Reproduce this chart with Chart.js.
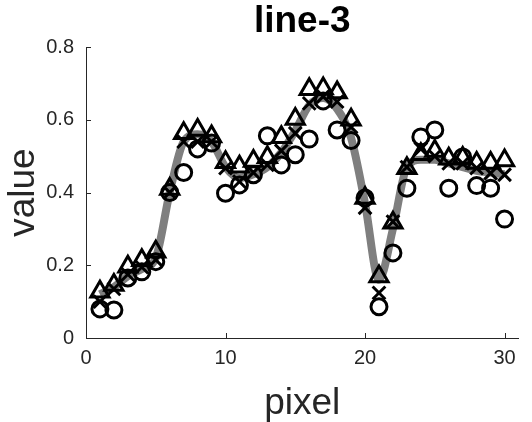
<!DOCTYPE html>
<html>
<head>
<meta charset="utf-8">
<script src="https://cdn.jsdelivr.net/npm/chart.js@4/dist/chart.umd.min.js"></script>
<style>
html,body{margin:0;padding:0;background:#fff;}
#wrap{width:532px;height:422px;}
</style>
</head>
<body>
<div id="wrap"><canvas id="c" width="532" height="422"></canvas></div>
<script>
const pixels = [1,2,3,4,5,6,7,8,9,10,11,12,13,14,15,16,17,18,19,20,21,22,23,24,25,26,27,28,29,30];
const truth = [0.12,0.14,0.17,0.19,0.22,0.40,0.54,0.56,0.54,0.47,0.44,0.45,0.47,0.51,0.57,0.64,0.66,0.63,0.55,0.37,0.16,0.30,0.47,0.49,0.49,0.48,0.47,0.46,0.455,0.45];
const circles = [0.08,0.077,0.165,0.182,0.21,0.40,0.455,0.52,0.536,0.398,0.421,0.449,0.556,0.476,0.504,0.547,0.652,0.572,0.543,0.385,0.086,0.234,0.412,0.553,0.572,0.412,0.498,0.419,0.412,0.327];
const crosses = [0.10,0.135,0.175,0.195,0.215,0.40,0.54,0.54,0.54,0.467,0.43,0.455,0.476,0.515,0.563,0.645,0.664,0.65,0.58,0.358,0.124,0.32,0.47,0.52,0.50,0.48,0.48,0.467,0.453,0.449];
const triangles = [0.127,0.146,0.196,0.214,0.237,0.41,0.563,0.572,0.554,0.483,0.471,0.487,0.497,0.552,0.602,0.684,0.686,0.675,0.60,0.385,0.169,0.317,0.467,0.505,0.514,0.493,0.495,0.481,0.481,0.488];
const xTicks = [0,10,20,30];
const yTicks = [0,0.2,0.4,0.6,0.8];
const titleText = 'line-3';
const xTitle = 'pixel';
const yTitle = 'value';

const pts = arr => pixels.map((p,i)=>({x:p,y:arr[i]}));
const axisColor = '#262626';
const FONT = "'Liberation Sans', Arial, sans-serif";

const inwardTicks = {
  id:'inwardTicks',
  afterDatasetsDraw(chart){
    const ctx = chart.ctx, a = chart.chartArea;
    const xs = chart.scales.x, ys = chart.scales.y;
    ctx.save();
    ctx.strokeStyle = axisColor; ctx.lineWidth = 1;
    ctx.beginPath();
    xTicks.forEach(v=>{ const px = Math.round(xs.getPixelForValue(v))+0.5; ctx.moveTo(px,a.bottom); ctx.lineTo(px,a.bottom-5); });
    yTicks.forEach(v=>{ const py = Math.round(ys.getPixelForValue(v))+0.5; ctx.moveTo(a.left,py); ctx.lineTo(a.left+5,py); });
    ctx.stroke();
    ctx.restore();
  }
};

new Chart(document.getElementById('c'), {
  type:'scatter',
  data:{
    datasets:[
      {data:pts(truth), showLine:true, borderColor:'#7f7f7f', borderWidth:8, pointRadius:0, cubicInterpolationMode:'monotone', order:5},
      {data:pts(circles), pointStyle:'circle', pointRadius:8, borderColor:'#000', backgroundColor:'rgba(0,0,0,0)', pointBorderWidth:3, order:3},
      {data:pts(crosses), pointStyle:'crossRot', pointRadius:9, borderColor:'#000', pointBorderWidth:3, order:2},
      {data:pts(triangles), pointStyle:'triangle', pointRadius:10.5, borderColor:'#000', backgroundColor:'rgba(0,0,0,0)', pointBorderWidth:3, order:1}
    ]
  },
  options:{
    responsive:false, animation:false, devicePixelRatio:1,
    layout:{padding:{left:0,right:1,top:0,bottom:0}},
    plugins:{
      legend:{display:false}, tooltip:{enabled:false},
      title:{display:true, fullSize:false, text:titleText, color:'#000', font:{family:FONT, size:37, weight:'bold', lineHeight:1.15}, padding:{top:1,bottom:3.5}}
    },
    scales:{
      x:{
        type:'linear', min:0, max:31,
        afterBuildTicks: s => { s.ticks = xTicks.map(v=>({value:v})); },
        afterFit: s => { s.height = 84; },
        grid:{display:false, drawTicks:false},
        border:{display:true, color:axisColor, width:1},
        ticks:{color:axisColor, font:{family:FONT, size:20}, padding:8, maxRotation:0, callback:v=>String(v)},
        title:{display:true, text:xTitle, color:axisColor, font:{family:FONT, size:37, lineHeight:1.0}, padding:{top:2,bottom:0}}
      },
      y:{
        type:'linear', min:0, max:0.8,
        afterBuildTicks: s => { s.ticks = yTicks.map(v=>({value:v})); },
        afterFit: s => { s.width = 86; },
        grid:{display:false, drawTicks:false},
        border:{display:true, color:axisColor, width:1},
        ticks:{color:axisColor, font:{family:FONT, size:20}, padding:12, callback:v=>String(Math.round(v*10)/10)},
        title:{display:true, text:yTitle, color:axisColor, font:{family:FONT, size:37, lineHeight:1.1}, padding:{top:3,bottom:0}}
      }
    }
  },
  plugins:[inwardTicks]
});
</script>
</body>
</html>
